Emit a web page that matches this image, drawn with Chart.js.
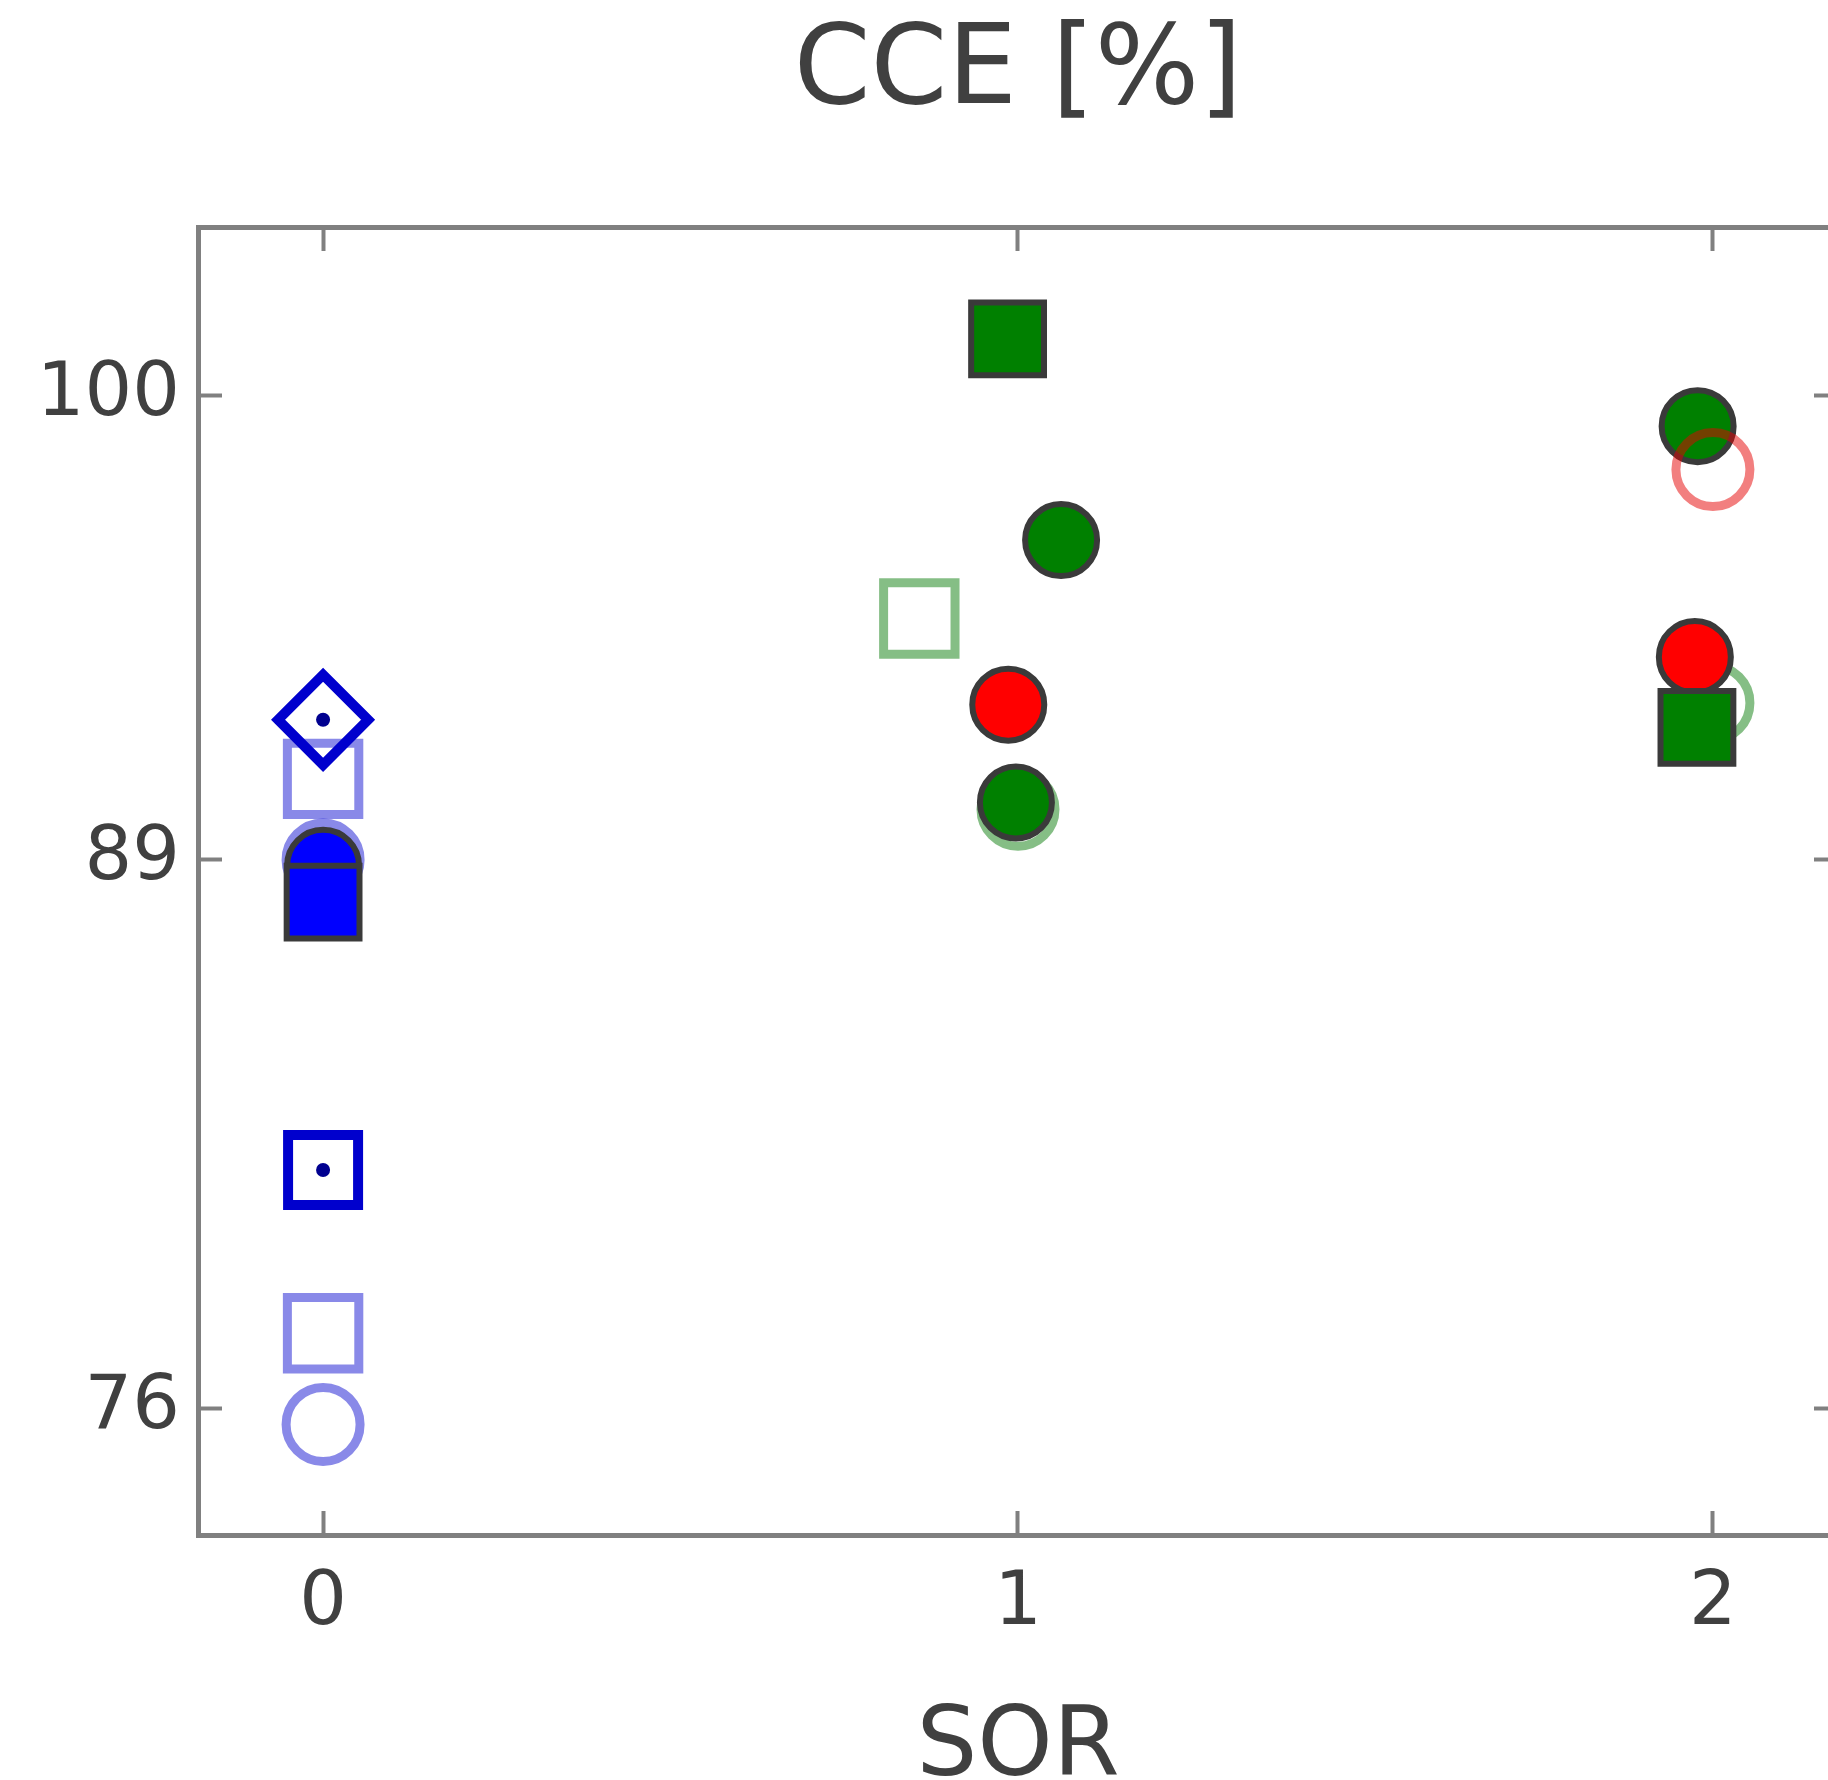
<!DOCTYPE html>
<html>
<head>
<meta charset="utf-8">
<title>CCE [%]</title>
<script src="https://cdn.jsdelivr.net/npm/chart.js@4.4.1/dist/chart.umd.min.js"></script>
<style>
  html, body { margin: 0; padding: 0; background: #fff; overflow: hidden; }
  #wrap { width: 1860px; height: 1800px; }
</style>
</head>
<body>
<div id="wrap"><canvas id="cceChart" width="1860" height="1800"></canvas></div>
<script>
const xTicks = [0, 1, 2];
const yTicks = [76, 89, 100];

// SOR 0
const blueDiamondX = [0];
const blueDiamondY = [92.32];
const blueDotSquareX = [0];
const blueDotSquareY = [81.65];
const blueSquareX = [0];
const blueSquareY = [88.0];
const blueCircleX = [0];
const blueCircleY = [88.86];
const blueOpenSquareX = [0, 0];
const blueOpenSquareY = [90.92, 77.78];
const blueOpenCircleX = [0, 0];
const blueOpenCircleY = [89.0, 75.62];

// SOR 1 and 2
const greenSquareX = [0.985, 1.977];
const greenSquareY = [101.35, 92.14];
const greenCircleX = [1.062, 0.997, 1.978];
const greenCircleY = [96.58, 90.36, 99.28];
const greenOpenSquareX = [0.858];
const greenOpenSquareY = [94.72];
const greenOpenCircleX = [1.0, 2.0];
const greenOpenCircleY = [90.2, 92.72];
const redCircleX = [0.986, 1.974];
const redCircleY = [92.68, 93.81];
const redOpenCircleX = [2.0];
const redOpenCircleY = [98.25];

const FONT = 'DejaVu Sans';
const TEXT = '#404040';
const AXIS = '#808080';
const EDGE = '#3a3a3a';

const pts = (xs, ys) => xs.map((x, i) => ({ x: x, y: ys[i] }));

function marker(xs, ys, style, radius, fill, stroke, width) {
  return {
    data: pts(xs, ys),
    showLine: false,
    pointStyle: style,
    pointRadius: radius,
    pointBackgroundColor: fill,
    pointBorderColor: stroke,
    pointBorderWidth: width
  };
}

const lightBlue = 'rgba(20,20,210,0.5)';
const lightGreen = 'rgba(0,120,0,0.48)';
const lightRed = 'rgba(230,0,0,0.5)';

// listed bottom to top
const layers = [
  marker(blueOpenCircleX, blueOpenCircleY, 'circle', 37, 'transparent', lightBlue, 9),
  marker(greenOpenCircleX, greenOpenCircleY, 'circle', 37, 'transparent', lightGreen, 9),
  marker(blueOpenSquareX, blueOpenSquareY, 'rect', 50.5, 'transparent', lightBlue, 9),
  marker(greenOpenSquareX, greenOpenSquareY, 'rect', 50.5, 'transparent', lightGreen, 9),
  marker(greenCircleX, greenCircleY, 'circle', 36, '#008000', EDGE, 6),
  marker(redCircleX, redCircleY, 'circle', 36, '#ff0000', EDGE, 6),
  marker(blueCircleX, blueCircleY, 'circle', 36, '#0000ff', EDGE, 6),
  marker(blueSquareX, blueSquareY, 'rect', 51.5, '#0000ff', EDGE, 6),
  marker(greenSquareX, greenSquareY, 'rect', 51.5, '#008000', EDGE, 6),
  marker(blueDiamondX, blueDiamondY, 'rectRot', 45, 'transparent', '#0000cd', 10),
  marker(blueDotSquareX, blueDotSquareY, 'rect', 49.5, 'transparent', '#0000cd', 10),
  marker(blueDiamondX.concat(blueDotSquareX), blueDiamondY.concat(blueDotSquareY), 'circle', 7, '#000090', '#000090', 0),
  marker(redOpenCircleX, redOpenCircleY, 'circle', 37, 'transparent', lightRed, 9)
];

// Chart.js paints dataset 0 last, so flip the stack
const datasets = layers.slice().reverse();

const tickMarks = {
  drawOnChartArea: false,
  drawTicks: true,
  tickLength: -24,
  tickWidth: 4,
  tickColor: AXIS
};
const frame = { color: AXIS, width: 5 };

function axisRange(ticks, lo, hi) {
  return {
    type: 'linear',
    min: lo,
    max: hi,
    afterBuildTicks: s => { s.ticks = ticks.map(v => ({ value: v })); }
  };
}

// fixed box sizes; drop the label overhang padding the layout would add
function fixedWidth(w) {
  return s => { s.width = w; s.paddingTop = 0; s.paddingBottom = 0; };
}
function fixedHeight(h) {
  return s => { s.height = h; s.paddingLeft = 0; s.paddingRight = 0; };
}

new Chart(document.getElementById('cceChart'), {
  type: 'scatter',
  data: { datasets: datasets },
  options: {
    responsive: false,
    animation: false,
    devicePixelRatio: 1,
    events: [],
    layout: { padding: 0, autoPadding: false },
    plugins: {
      legend: { display: false },
      tooltip: { enabled: false },
      title: {
        display: true,
        text: 'CCE [%]',
        fullSize: false,
        color: TEXT,
        font: { family: FONT, size: 110, weight: 'normal', lineHeight: 1 },
        padding: { top: 19, bottom: 98 }
      }
    },
    scales: {
      x: Object.assign(axisRange(xTicks, -0.18, 2.18), {
        position: 'bottom',
        afterFit: fixedHeight(265),
        border: frame,
        grid: tickMarks,
        ticks: {
          color: TEXT,
          padding: 56,
          maxRotation: 0,
          font: { family: FONT, size: 75, lineHeight: 1 }
        },
        title: {
          display: true,
          text: 'SOR',
          color: TEXT,
          font: { family: FONT, size: 96, lineHeight: 1 },
          padding: { top: 0, bottom: 2 }
        }
      }),
      y: Object.assign(axisRange(yTicks, 73, 104), {
        position: 'left',
        afterFit: fixedWidth(198),
        border: frame,
        grid: tickMarks,
        ticks: {
          color: TEXT,
          padding: 42,
          font: { family: FONT, size: 75, lineHeight: 1 }
        }
      }),
      x2: Object.assign(axisRange(xTicks, -0.18, 2.18), {
        position: 'top',
        afterFit: fixedHeight(0),
        border: frame,
        grid: tickMarks,
        ticks: { display: false }
      }),
      y2: Object.assign(axisRange(yTicks, 73, 104), {
        position: 'right',
        afterFit: fixedWidth(22),
        border: frame,
        grid: tickMarks,
        ticks: { display: false }
      })
    }
  }
});
</script>
</body>
</html>
